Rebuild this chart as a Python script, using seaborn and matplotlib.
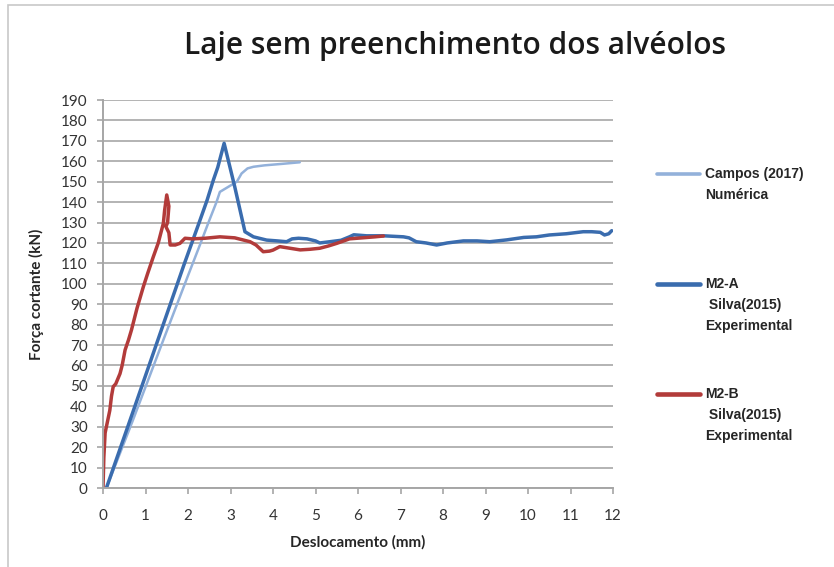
import numpy as np
import pandas as pd
import matplotlib
matplotlib.use("Agg")
import matplotlib.pyplot as plt
from matplotlib.lines import Line2D
from matplotlib.patches import Rectangle
import seaborn as sns

# Campos (2017) - numerical model
campos_x = [0.08, 0.7, 1.42, 2.0, 2.28, 2.5, 2.67, 2.75, 2.95, 3.15, 3.26, 3.4, 3.54, 3.8, 4.2, 4.63]
campos_y = [0, 33, 72.5, 104, 119, 131, 140, 145, 147.5, 150, 154, 156.5, 157.3, 158, 158.7, 159.5]

# M2-A - Silva (2015) experimental
m2a_x = [0.08, 0.7, 1.3, 1.9, 2.28, 2.45, 2.6, 2.7, 2.85, 3.1, 3.34, 3.54, 3.85, 4.1, 4.32,
         4.45, 4.6, 4.8, 5.0, 5.1, 5.3, 5.6, 5.8, 5.9, 6.2, 6.6, 7.07, 7.2, 7.37, 7.6, 7.85,
         8.1, 8.48, 8.8, 9.1, 9.5, 9.9, 10.2, 10.5, 10.9, 11.3, 11.5, 11.7, 11.8, 11.9, 11.97]
m2a_y = [0, 37, 73, 109, 131, 141, 151, 157, 168.8, 147.5, 125.5, 123, 121.4, 121, 120.6,
         122, 122.3, 122, 121, 120, 120.5, 121.3, 123, 124, 123.5, 123.5, 123, 122.5, 120.6, 120, 119,
         120, 121, 121, 120.6, 121.5, 122.7, 123, 123.9, 124.5, 125.5, 125.5, 125.2, 123.9, 124.5, 126]

# M2-B - Silva (2015) experimental
m2b_x = [0, 0.02, 0.05, 0.1, 0.16, 0.2, 0.24, 0.3, 0.4, 0.45, 0.52, 0.6, 0.67, 0.8, 0.95, 1.05,
         1.18, 1.3, 1.42, 1.45, 1.5, 1.55, 1.52, 1.48, 1.55, 1.58, 1.7, 1.81, 1.93, 2.1, 2.4,
         2.75, 3.1, 3.46, 3.6, 3.77, 3.92, 4.0, 4.16, 4.4, 4.64, 4.87, 5.1, 5.3, 5.5, 5.8, 6.1,
         6.4, 6.6]
m2b_y = [0, 15, 27, 32, 38, 45, 49.6, 51, 56, 60, 67.6, 72.5, 77.4, 88, 98.6, 105,
         113, 120, 129.6, 136, 143.5, 138, 130, 128, 125, 119, 119, 119.8, 122.3, 122, 122.3,
         123, 122.5, 120.6, 119, 115.7, 116, 116.5, 118.2, 117.4, 116.6, 116.9, 117.4, 118.5, 119.8, 122, 122.5,
         123, 123.4]

x_ticks = list(range(0, 13))
y_ticks = list(range(0, 200, 10))

series = [
    ("Campos (2017)\nNumérica", campos_x, campos_y, "#93b1da", 1.8),
    ("M2-A\n Silva(2015)\nExperimental", m2a_x, m2a_y, "#3a6cae", 2.5),
    ("M2-B\n Silva(2015)\nExperimental", m2b_x, m2b_y, "#b23b3a", 2.5),
]

sns.set_theme(style="white")
plt.rcParams["font.family"] = ["Lato", "DejaVu Sans"]

fig = plt.figure(figsize=(8.34, 5.67), dpi=100)
ax = fig.add_axes([103 / 834, 1 - 488 / 567, 510 / 834, 388 / 567])

for label, xs, ys, color, lw in series:
    df = pd.DataFrame({"Deslocamento": xs, "Forca": ys})
    sns.lineplot(data=df, x="Deslocamento", y="Forca", ax=ax, sort=False,
                 estimator=None, color=color, linewidth=lw, legend=False)

ax.set_xlim(0, 12)
ax.set_ylim(0, 190)
ax.set_xticks(x_ticks)
ax.set_yticks(y_ticks)
ax.set_xticklabels([str(v) for v in x_ticks], fontsize=11, color="#333333")
ax.set_yticklabels([str(v) for v in y_ticks], fontsize=11, color="#333333")
ax.yaxis.grid(True, color="#b3b3b3", linewidth=1.4)
ax.xaxis.grid(False)
ax.set_axisbelow(True)
for side in ("top", "right"):
    ax.spines[side].set_visible(False)
for side in ("left", "bottom"):
    ax.spines[side].set_color("#a6a6a6")
    ax.spines[side].set_linewidth(1.4)
ax.tick_params(axis="both", which="major", direction="out", length=4, width=1.2,
               color="#a6a6a6", left=True, bottom=True)
ax.tick_params(axis="x", pad=11)
ax.tick_params(axis="y", pad=7)
ax.set_xlabel("Deslocamento (mm)", fontsize=11, fontweight="bold", color="#262626", labelpad=9)
ax.set_ylabel("Força cortante (kN)", fontsize=11, fontweight="bold", color="#262626", labelpad=12)

fig.text(455 / 834, 1 - 46 / 567, "Laje sem preenchimento dos alvéolos", ha="center",
         va="center", fontsize=21.5, color="#1a1a1a", fontweight="semibold",
         family=["Open Sans", "DejaVu Sans"])

# legend on the right
legend_rows = [174, 284, 394]
for (label, xs, ys, color, lw), yrow in zip(series, legend_rows):
    yf = 1 - yrow / 567
    fig.add_artist(Line2D([657 / 834, 700 / 834], [yf, yf], color=color,
                          linewidth=lw + 0.8, solid_capstyle="round"))
    for i, line in enumerate(label.split("\n")):
        fig.text(705 / 834, 1 - (yrow + 21 * i) / 567, line, ha="left", va="center",
                 fontsize=10, fontweight="bold", color="#262626",
                 family=["Liberation Sans", "DejaVu Sans"])

# chart area border
fig.add_artist(Rectangle((8 / 834, -0.05), 1.2, 1 - 5 / 567 + 0.05, transform=fig.transFigure,
                         fill=False, edgecolor="#c8c8c8", linewidth=1.2))

fig.savefig("out.png", dpi=100)
